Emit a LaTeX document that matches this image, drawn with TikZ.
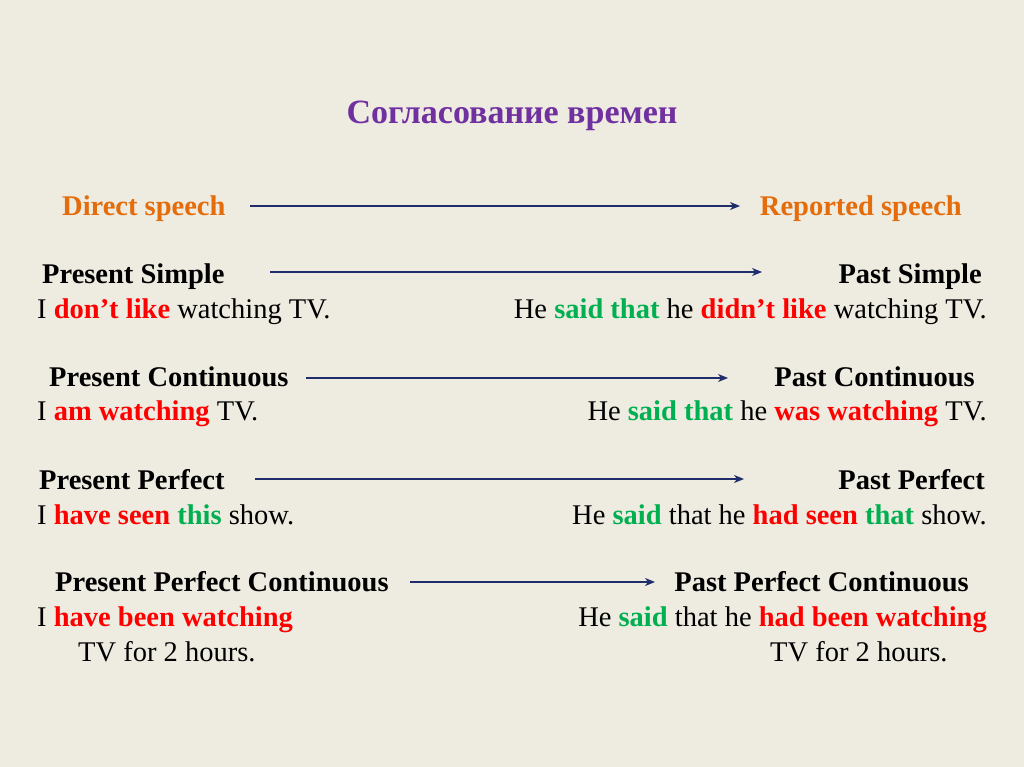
\documentclass[tikz,border=0pt]{standalone}
\usepackage{fontspec}
\setmainfont{Liberation Serif}
\usepackage{xcolor}
\usetikzlibrary{arrows.meta, positioning}
\definecolor{Slide_Beige}{HTML}{EEEBE1}
\definecolor{Title_Purple}{HTML}{7030A0}
\definecolor{Speech_Orange}{HTML}{E46C0A}
\definecolor{Verb_Red}{HTML}{FF0000}
\definecolor{Said_Green}{HTML}{00B050}
\definecolor{Arrow_Navy}{HTML}{1F2D6B}
\newcommand{\verbpart}[1]{\textbf{\textcolor{Verb_Red}{#1}}}
\newcommand{\saidpart}[1]{\textbf{\textcolor{Said_Green}{#1}}}

\begin{document}
\begin{tikzpicture}[x=1pt, y=-1pt,
    txt/.style={inner sep=0pt, font=\fontsize{28.5}{34}\selectfont},
    tense/.style={txt, font=\fontsize{28.5}{34}\selectfont\bfseries},
    shift arrow/.style={draw=Arrow_Navy, line width=1.4pt, -{Stealth[length=10pt, width=8pt, inset=3pt]}}]

    % background of the slide, 1024 x 767
    \fill[Slide_Beige] (0,0) rectangle (1024,767);
    \useasboundingbox (0,0) rectangle (1024,767);

    % === Title ===
    \node[txt, anchor=base, font=\fontsize{34}{40}\selectfont\bfseries, text=Title_Purple] (title) at (512,124) {Согласование времен};

    % === Direct -> Reported ===
    \node[tense, anchor=base west, text=Speech_Orange] (direct) at (62,215) {Direct speech};
    \node[tense, anchor=base east, text=Speech_Orange] (reported) at (962,215) {Reported speech};
    \coordinate (directTo) at (250,206);
    \coordinate (reportedFrom) at (740,206);
    \draw[shift arrow] (directTo) -- (reportedFrom);

    % === Present Simple -> Past Simple ===
    \node[tense, anchor=base west] (presSimple) at (42,283) {Present Simple};
    \node[tense, anchor=base east] (pastSimple) at (982,283) {Past Simple};
    \node[txt, anchor=base west] (presSimpleEx) at (37,318) {I \verbpart{don’t like} watching TV.};
    \node[txt, anchor=base east] (pastSimpleEx) at (987,318) {He \saidpart{said that} he \verbpart{didn’t like} watching TV.};
    \coordinate (simpleFrom) at (270,272);
    \coordinate (simpleTo) at (762,272);
    \draw[shift arrow] (simpleFrom) -- (simpleTo);

    % === Present Continuous -> Past Continuous ===
    \node[tense, anchor=base west] (presCont) at (49,386) {Present Continuous};
    \node[tense, anchor=base east] (pastCont) at (975,386) {Past Continuous};
    \node[txt, anchor=base west] (presContEx) at (37,420) {I \verbpart{am watching} TV.};
    \node[txt, anchor=base east] (pastContEx) at (987,420) {He \saidpart{said that} he \verbpart{was watching} TV.};
    \coordinate (contFrom) at (306,378);
    \coordinate (contTo) at (728,378);
    \draw[shift arrow] (contFrom) -- (contTo);

    % === Present Perfect -> Past Perfect ===
    \node[tense, anchor=base west] (presPerf) at (39,489) {Present Perfect};
    \node[tense, anchor=base east] (pastPerf) at (985,489) {Past Perfect};
    \node[txt, anchor=base west] (presPerfEx) at (37,524) {I \verbpart{have seen} \saidpart{this} show.};
    \node[txt, anchor=base east] (pastPerfEx) at (987,524) {He \saidpart{said} that he \verbpart{had seen} \saidpart{that} show.};
    \coordinate (perfFrom) at (255,479);
    \coordinate (perfTo) at (744,479);
    \draw[shift arrow] (perfFrom) -- (perfTo);

    % === Present Perfect Continuous -> Past Perfect Continuous ===
    \node[tense, anchor=base west] (presPerfCont) at (55,591) {Present Perfect Continuous};
    \node[tense, anchor=base east] (pastPerfCont) at (969,591) {Past Perfect Continuous};
    \node[txt, anchor=base west] (presPerfContEx) at (37,626) {I \verbpart{have been watching}};
    \node[txt, anchor=base east] (pastPerfContEx) at (987,626) {He \saidpart{said} that he \verbpart{had been watching}};
    \node[txt, anchor=base west] (presPerfContEnd) at (78,661) {TV for 2 hours.};
    \node[txt, anchor=base west] (pastPerfContEnd) at (770,661) {TV for 2 hours.};
    \coordinate (perfContFrom) at (410,582);
    \coordinate (perfContTo) at (655,582);
    \draw[shift arrow] (perfContFrom) -- (perfContTo);

\end{tikzpicture}
\end{document}
